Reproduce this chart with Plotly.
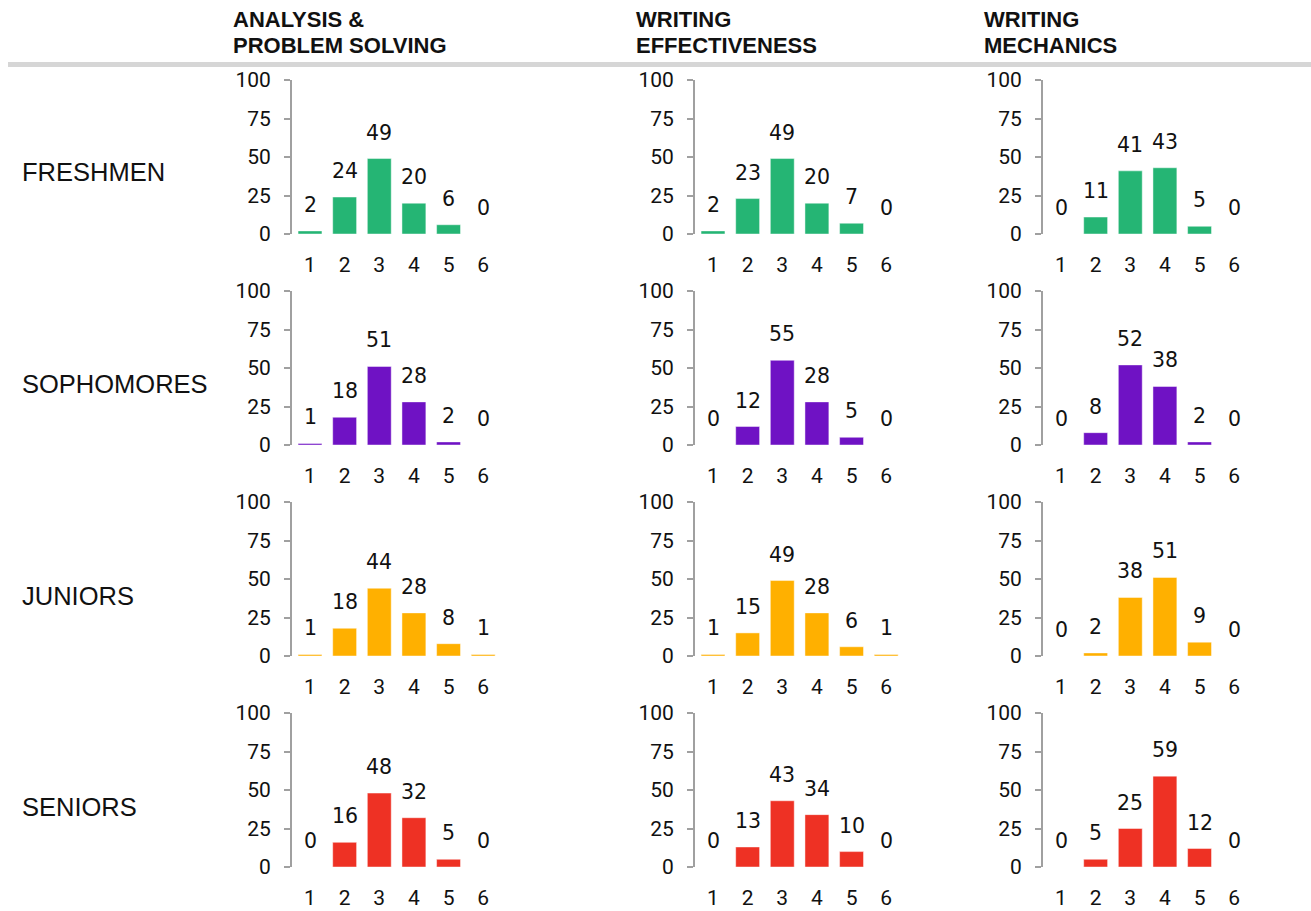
import plotly.graph_objects as go

W, H = 1311, 911
NUM_FONT = "DejaVu Sans, Roboto, sans-serif"
TICK_FONT = "Liberation Sans Narrow, Arial Narrow, Roboto, sans-serif"
TXT_FONT = "Liberation Sans, Arial, sans-serif"

scores = [1, 2, 3, 4, 5, 6]
classes = ["FRESHMEN", "SOPHOMORES", "JUNIORS", "SENIORS"]
skills = [["ANALYSIS &", "PROBLEM SOLVING"], ["WRITING", "EFFECTIVENESS"], ["WRITING", "MECHANICS"]]
class_colors = ["#25b574", "#6f12c4", "#ffb000", "#ee3124"]

freshmen_ap = [2, 24, 49, 20, 6, 0]
freshmen_we = [2, 23, 49, 20, 7, 0]
freshmen_wm = [0, 11, 41, 43, 5, 0]
sophomores_ap = [1, 18, 51, 28, 2, 0]
sophomores_we = [0, 12, 55, 28, 5, 0]
sophomores_wm = [0, 8, 52, 38, 2, 0]
juniors_ap = [1, 18, 44, 28, 8, 1]
juniors_we = [1, 15, 49, 28, 6, 1]
juniors_wm = [0, 2, 38, 51, 9, 0]
seniors_ap = [0, 16, 48, 32, 5, 0]
seniors_we = [0, 13, 43, 34, 10, 0]
seniors_wm = [0, 5, 25, 59, 12, 0]

y_ticks = [0, 25, 50, 75, 100]

grid = [
    [freshmen_ap, freshmen_we, freshmen_wm],
    [sophomores_ap, sophomores_we, sophomores_wm],
    [juniors_ap, juniors_we, juniors_wm],
    [seniors_ap, seniors_we, seniors_wm],
]

col_x0 = [292, 695, 1043]
col_w = 208.5
row_top = [80, 291, 502, 713]
row_h = 154

fig = go.Figure()
annotations = []
layout_axes = {}
idx = 0
for r in range(4):
    for c in range(3):
        idx += 1
        xa = "x" if idx == 1 else f"x{idx}"
        ya = "y" if idx == 1 else f"y{idx}"
        vals = grid[r][c]
        fig.add_trace(go.Bar(
            x=scores, y=vals, xaxis=xa, yaxis=ya,
            marker=dict(color=class_colors[r], line=dict(color="rgba(255,255,255,0.45)", width=1)),
            showlegend=False, hoverinfo="x+y",
        ))
        for s, v in zip(scores, vals):
            annotations.append(dict(
                x=s, y=v, xref=xa, yref=ya, text=str(v), showarrow=False,
                yanchor="bottom", yshift=12,
                font=dict(family=NUM_FONT, size=20.5, color="#111111"),
            ))
        xd = [col_x0[c] / W, (col_x0[c] + col_w) / W]
        yd = [1 - (row_top[r] + row_h) / H, 1 - row_top[r] / H]
        xkey = "xaxis" if idx == 1 else f"xaxis{idx}"
        ykey = "yaxis" if idx == 1 else f"yaxis{idx}"
        layout_axes[xkey] = dict(
            domain=xd, anchor=ya, range=[0.48, 6.5], tickvals=scores,
            showline=False, showgrid=False, zeroline=False, ticks="",
            ticklabelstandoff=16, automargin=False, fixedrange=True,
            tickfont=dict(family=TICK_FONT, size=21, color="#111111"),
        )
        layout_axes[ykey] = dict(
            domain=yd, anchor=xa, range=[0, 100], tickvals=y_ticks,
            showline=True, linecolor="#a0a0a0", linewidth=2,
            ticks="outside", ticklen=6, tickcolor="#a0a0a0", tickwidth=2,
            showgrid=False, zeroline=False, ticklabelstandoff=9,
            automargin=False, fixedrange=True,
            tickfont=dict(family=TICK_FONT, size=21, color="#111111"),
        )

header_x = [231, 634, 982]
header_y = [19.5, 45.5]
for c in range(3):
    for i, line in enumerate(skills[c]):
        annotations.append(dict(
            x=header_x[c] / W, y=1 - header_y[i] / H, xref="paper", yref="paper",
            text=f"<b>{line}</b>", showarrow=False, xanchor="left", yanchor="middle",
            font=dict(family=TXT_FONT, size=22, color="#111111"),
        ))

label_y = [172.5, 384, 595.5, 807]
for r in range(4):
    annotations.append(dict(
        x=20 / W, y=1 - label_y[r] / H, xref="paper", yref="paper",
        text=classes[r], showarrow=False, xanchor="left", yanchor="middle",
        font=dict(family=TXT_FONT, size=25.5, color="#111111"),
    ))

fig.update_layout(
    width=W, height=H, autosize=False,
    margin=dict(l=0, r=0, t=0, b=0, autoexpand=False),
    paper_bgcolor="white", plot_bgcolor="white",
    bargap=0.31,
    annotations=annotations,
    shapes=[dict(type="line", xref="paper", yref="paper", x0=8 / W, x1=1,
                 y0=1 - 64.5 / H, y1=1 - 64.5 / H, line=dict(color="#d6d6d6", width=5))],
    **layout_axes,
)

fig.write_html("out.html", config={"displayModeBar": False},
               post_script="document.body.style.margin='0';document.body.style.overflow='hidden';")
